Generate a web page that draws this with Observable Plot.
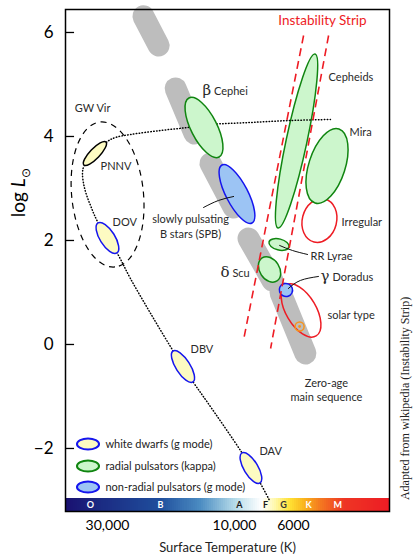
<!DOCTYPE html>
<html><head><meta charset="utf-8">
<script src="https://cdn.jsdelivr.net/npm/d3@7"></script>
<script src="https://cdn.jsdelivr.net/npm/@observablehq/plot@0.6"></script>
<style>body{margin:0;background:#fff} svg{display:block}</style>
</head><body><div id="chart"></div>
<script>
// x = log10(Teff) (reversed), y = log L/Lsun
const tickTemps = [30000, 10000, 6000];
const tickLabels = ["30,000", "10,000", "6000"];
const yTicks = [-2, 0, 2, 4, 6];

// ellipses: major-axis endpoints (logT, logL) and semi-minor axis (logL units)
const whiteDwarfs = [
  {name: "PNNV", t1: 4.481, l1: 3.885, t2: 4.564, l2: 3.442, w: 0.096, edge: "black"},
  {name: "DOV",  t1: 4.511, l1: 2.327, t2: 4.440, l2: 1.750, w: 0.144},
  {name: "DBV",  t1: 4.229, l1: -0.135, t2: 4.154, l2: -0.731, w: 0.135},
  {name: "DAV",  t1: 3.970, l1: -2.096, t2: 3.902, l2: -2.673, w: 0.135}
];
const cepheids = [
  {name: "Cepheids", t1: 3.695, l1: 5.577, t2: 3.834, l2: 2.231, w: 0.20}
];
const radialPulsators = [
  {name: "β Cephei", t1: 4.169, l1: 4.731, t2: 4.056, l2: 3.596, w: 0.25},
  {name: "Mira",     t1: 3.605, l1: 4.135, t2: 3.695, l2: 2.712, w: 0.35},
  {name: "RR Lyrae", t1: 3.868, l1: 1.962, t2: 3.793, l2: 1.865, w: 0.106},
  {name: "δ Scu",    t1: 3.894, l1: 1.654, t2: 3.838, l2: 1.212, w: 0.19}
];
const nonRadialPulsators = [
  {name: "SPB",       t1: 4.045, l1: 3.442, t2: 3.932, l2: 2.327, w: 0.21},
  {name: "γ Doradus", t1: 3.827, l1: 1.096, t2: 3.782, l2: 0.981, w: 0.125}
];
const redRegions = [
  {name: "Irregular",  t1: 3.658, l1: 2.788, t2: 3.699, l2: 1.962, w: 0.33},
  {name: "solar type", t1: 3.804, l1: 1.135, t2: 3.691, l2: 0.154, w: 0.29}
];
const gwVir = [
  {name: "GW Vir", t1: 4.503, l1: 4.269, t2: 4.447, l2: 1.481, w: 0.69}
];

// zero-age main sequence pieces
const mainSequence = [
  {t1: 4.342, l1: 6.31, t2: 4.285, l2: 5.750},
  {t1: 4.221, l1: 4.923, t2: 4.150, l2: 4.058},
  {t1: 4.090, l1: 3.481, t2: 4.003, l2: 2.635},
  {t1: 3.947, l1: 2.038, t2: 3.857, l2: 1.231},
  {t1: 3.827, l1: 1.000, t2: 3.733, l2: -0.173}
];
// instability strip edges
const stripEdges = [
  {t1: 3.740, l1: 5.942, t2: 3.966, l2: 0.077},
  {t1: 3.646, l1: 5.942, t2: 3.864, l2: -0.077}
];
// evolutionary track (dotted)
const trackT = [3.639, 3.789, 3.940, 4.090, 4.176, 4.278, 4.391, 4.447, 4.477, 4.564, 4.571, 4.564, 4.541, 4.511, 4.440, 4.391, 4.315, 4.229, 4.154, 4.101, 3.970, 3.902, 3.868];
const trackL = [4.327, 4.308, 4.269, 4.231, 4.173, 4.115, 4.038, 3.981, 3.904, 3.442, 3.308, 3.019, 2.673, 2.327, 1.750, 1.269, 0.596, -0.135, -0.731, -1.115, -2.096, -2.673, -3.0];
// leader lines
const leaders = [
  {id: "SPB", t: 4.116, l: 2.635}, {id: "SPB", t: 4.060, l: 2.769}, {id: "SPB", t: 4.003, l: 2.846},
  {id: "RR", t: 3.830, l: 1.904}, {id: "RR", t: 3.782, l: 1.808}, {id: "RR", t: 3.725, l: 1.731},
  {id: "GD", t: 3.797, l: 1.077}, {id: "GD", t: 3.752, l: 1.231}, {id: "GD", t: 3.684, l: 1.308}
];
const sun = [{t: 3.755, l: 0.346}];

// labels
const labelsStart = [
  {text: "PNNV", t: 4.503, l: 3.423}, {text: "DOV", t: 4.458, l: 2.346},
  {text: "β Cephei", t: 4.120, l: 4.865}, {text: "Cepheids", t: 3.646, l: 5.135},
  {text: "Mira", t: 3.567, l: 4.077}, {text: "Irregular", t: 3.597, l: 2.346},
  {text: "RR Lyrae", t: 3.714, l: 1.692}, {text: "δ Scu", t: 4.052, l: 1.365},
  {text: "γ Doradus", t: 3.676, l: 1.288}, {text: "solar type", t: 3.650, l: 0.558},
  {text: "DBV", t: 4.165, l: -0.096}, {text: "DAV", t: 3.906, l: -2.058}
];
const labelsMiddle = [
  {text: "GW Vir", t: 4.533, l: 4.538},
  {text: "slowly pulsating", t: 4.165, l: 2.404}, {text: "B stars (SPB)", t: 4.165, l: 2.115},
  {text: "Zero-age", t: 3.654, l: -0.75}, {text: "main sequence", t: 3.654, l: -1.019}
];

// spectral classes bar
const specLetters = ["O", "B", "A", "F", "G", "K", "M"];
const specT = [4.541, 4.278, 3.981, 3.883, 3.815, 3.721, 3.612];
const specInk = ["white", "white", "#1a1a1a", "#1a1a1a", "#333", "white", "white"];
const barStopT = [4.635, 4.503, 4.278, 4.127, 3.996, 3.894, 3.845, 3.789, 3.733, 3.676, 3.582, 3.417];
const barStopC = ["#1a1070", "#1b2a82", "#1f4e9c", "#4b8cc2", "#b5dbe9", "#ffffff", "#fff8a8", "#ffe033", "#f9b21c", "#f47b20", "#ee3524", "#ed1c24"];

const legendLabels = ["white dwarfs (g mode)", "radial pulsators (kappa)", "non-radial pulsators (g mode)"];

// ---------- build ----------
const xDom = [4.635, 3.417], yDom = [-3.212, 6.442];
const barTop = -2.962;
const barColor = d3.scaleLinear().domain(barStopT).range(barStopC);
const N = 160;
const slices = d3.range(N).map(i => {
  const a = xDom[0] + (xDom[1] - xDom[0]) * i / N, b = xDom[0] + (xDom[1] - xDom[0]) * (i + 1.3) / N;
  return {x1: a, x2: Math.max(b, xDom[1]), c: barColor((a + b) / 2)};
});
const track = trackT.map((t, i) => ({t, l: trackL[i]}));

const C = {
  yellow: "#fdfbc2", green: "#ccf6cc", greenEdge: "#108510", blue: "#9cc4f4", blueEdge: "#1515ee", red: "#ee1c24"
};

function ellipses(data, style) {
  return (index, scales) => {
    const {x, y} = scales;
    const ky = Math.abs(y(1) - y(0));
    const g = d3.create("svg:g");
    for (const d of data) {
      const x1 = x(d.t1), y1 = y(d.l1), x2 = x(d.t2), y2 = y(d.l2);
      const cx = (x1 + x2) / 2, cy = (y1 + y2) / 2;
      const rx = Math.hypot(x2 - x1, y2 - y1) / 2, ry = d.w * ky;
      const a = Math.atan2(y2 - y1, x2 - x1) * 180 / Math.PI;
      g.append("ellipse").attr("cx", cx).attr("cy", cy).attr("rx", rx).attr("ry", ry)
        .attr("transform", `rotate(${a} ${cx} ${cy})`)
        .attr("fill", style.fill)
        .attr("stroke", d.edge || style.stroke)
        .attr("stroke-width", style.strokeWidth ?? 1.5)
        .attr("stroke-dasharray", style.dash || null);
    }
    return g.node();
  };
}

const legendT1 = 4.590, legendT2 = 4.507, legendTextT = 4.485, legendW = 0.106;
const legendL = [-1.923, -2.346, -2.75];
const legendStyles = [
  {fill: C.yellow, stroke: C.blueEdge, strokeWidth: 2},
  {fill: C.green, stroke: C.greenEdge, strokeWidth: 2},
  {fill: C.blue, stroke: C.blueEdge, strokeWidth: 2}
];

const xTickVals = tickTemps.map(Math.log10);
const labelInk = "#2a2a2a";

const plot = Plot.plot({
  width: 414, height: 555,
  marginLeft: 65, marginRight: 25, marginTop: 9, marginBottom: 44,
  x: {domain: xDom},
  y: {domain: yDom},
  style: {fontFamily: "Lato, 'Open Sans', sans-serif", background: "white", color: "black"},
  marks: [
    Plot.rect(slices, {x1: "x1", x2: "x2", y1: yDom[0], y2: barTop, fill: d => d.c, shapeRendering: "crispEdges"}),
    Plot.text(specLetters, {x: (d, i) => specT[i], y: (yDom[0] + barTop) / 2, text: d => d, fill: (d, i) => specInk[i], fontWeight: "bold", fontSize: 9}),
    Plot.link(mainSequence, {x1: "t1", y1: "l1", x2: "t2", y2: "l2", stroke: "#bdbdbd", strokeWidth: 22, strokeLinecap: "round"}),
    ellipses(gwVir, {fill: "none", stroke: "black", strokeWidth: 1.2, dash: "6,5"}),
    ellipses(redRegions, {fill: "none", stroke: C.red, strokeWidth: 1.5}),
    ellipses(cepheids, {fill: C.green, stroke: C.greenEdge}),
    Plot.line(track, {x: "t", y: "l", curve: "catmull-rom", stroke: "black", strokeWidth: 1.5, strokeDasharray: "0.5,2.4", strokeLinecap: "round"}),
    ellipses(radialPulsators, {fill: C.green, stroke: C.greenEdge}),
    ellipses(nonRadialPulsators, {fill: C.blue, stroke: C.blueEdge}),
    ellipses(whiteDwarfs, {fill: C.yellow, stroke: C.blueEdge}),
    Plot.link(stripEdges, {x1: "t1", y1: "l1", x2: "t2", y2: "l2", stroke: C.red, strokeWidth: 1.6, strokeDasharray: "8,5"}),
    Plot.line(leaders, {x: "t", y: "l", z: "id", curve: "natural", stroke: "#111", strokeWidth: 1}),
    Plot.dot(sun, {x: "t", y: "l", r: 4.5, stroke: "#f7941d", strokeWidth: 1.5, fill: "none"}),
    Plot.dot(sun, {x: "t", y: "l", r: 1.4, fill: "#f7941d"}),
    Plot.text(labelsStart, {x: "t", y: "l", text: "text", textAnchor: "start", fontSize: 11, fill: labelInk}),
    Plot.text(labelsMiddle, {x: "t", y: "l", text: "text", textAnchor: "middle", fontSize: 11, fill: labelInk}),
    Plot.text(["Instability Strip"], {x: 3.669, y: 6.231, text: d => d, fill: C.red, fontSize: 13.5}),
    ...legendLabels.map((lab, i) => ellipses([{t1: legendT1, l1: legendL[i], t2: legendT2, l2: legendL[i], w: legendW}], legendStyles[i])),
    Plot.text(legendLabels, {x: legendTextT, y: (d, i) => legendL[i], text: d => d, textAnchor: "start", fontSize: 11, fill: "#222"}),
    Plot.ruleY(yTicks, {x1: xDom[0], x2: 4.601, stroke: "black", strokeWidth: 1.3}),
    Plot.axisY({ticks: yTicks, tickSize: 0, tickPadding: 12, fontSize: 17, label: null}),
    Plot.axisX({ticks: xTickVals, tickSize: 0, tickPadding: 9, fontSize: 14, label: null,
      tickFormat: d => tickLabels[xTickVals.indexOf(d)]}),
    Plot.text(["Surface Temperature (K)"], {x: 4.026, y: yDom[0], dy: 36, text: d => d, fontSize: 13, fill: "#222"}),
    Plot.text(["log L⊙"], {x: xDom[0], y: 2.92, dx: -47, rotate: -90, text: d => d, fontSize: 19, fill: "black"}),
    Plot.text(["Adapted from wikipedia (Instability Strip)"], {x: xDom[1], y: -1.038, dx: 16, rotate: -90, text: d => d, fontSize: 12, fill: "#222", fontFamily: "'Liberation Serif', serif"}),
    Plot.frame({stroke: "black", strokeWidth: 1.5})
  ]
});

const svgSel = d3.select(plot);
svgSel.selectAll("text").filter(function () { return this.textContent === "log L⊙"; })
  .html('log <tspan font-style="italic">L</tspan><tspan font-size="12" dy="5">⊙</tspan>');
svgSel.selectAll("text").filter(function () { return /^[βγδ] /.test(this.textContent); })
  .each(function () {
    const s = this.textContent;
    d3.select(this).text(null);
    d3.select(this).append("tspan").attr("font-size", 15).attr("font-family", "'DejaVu Serif', serif").text(s[0]);
    d3.select(this).append("tspan").text(s.slice(1));
  });

document.getElementById("chart").append(plot);
</script></body></html>
